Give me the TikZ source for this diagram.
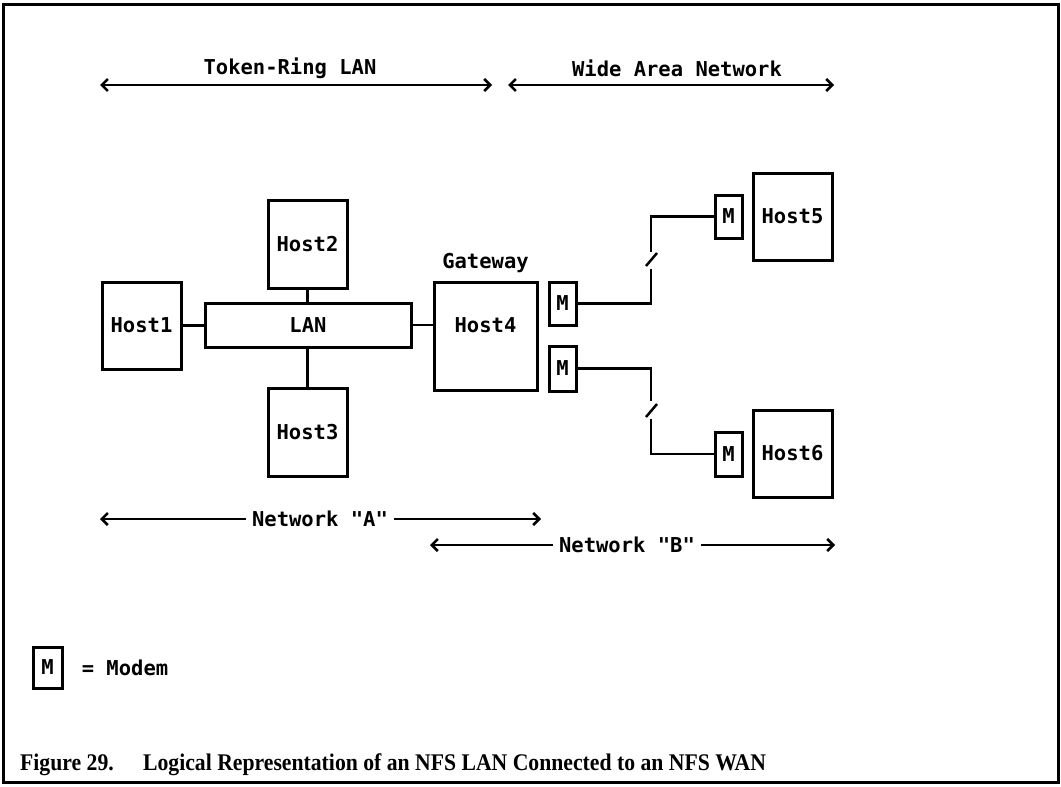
\documentclass[tikz,border=0pt]{standalone}
\usepackage{fontspec}
\setmainfont{Liberation Serif}
\newfontfamily\dmono{DejaVu Sans Mono}
\usetikzlibrary{arrows.meta}
\begin{document}
\begin{tikzpicture}[x=1pt,y=-1pt,
  box/.style={draw, line width=3pt, inner sep=0pt},
  lbl/.style={font=\dmono\bfseries\fontsize{20.5}{24}\selectfont, inner sep=0pt},
  slbl/.style={lbl, inner xsep=6pt},
  wire/.style={line width=2.5pt},
  tipl/.style={line width=2.5pt, {Straight Barb[length=6pt,width=12pt]}-},
  tipr/.style={line width=2.5pt, -{Straight Barb[length=6pt,width=12pt]}},
  span/.style={line width=2.5pt, {Straight Barb[length=6pt,width=12pt]}-{Straight Barb[length=6pt,width=12pt]}},
  host/.style={box, lbl, minimum width=79pt, minimum height=87pt},
  modem/.style={box, lbl, minimum width=27pt, minimum height=43pt}]
\useasboundingbox (0,0) rectangle (1061,787);
\fill[white] (0,0) rectangle (1061,787);
\draw[line width=3pt] (3,4) rectangle (1058,782);

% top spans
\node[lbl] (trl) at (290,68) {Token-Ring LAN};
\coordinate (trlL) at (100,85);
\coordinate (trlR) at (492,85);
\draw[span] (trlL) -- (trlR);
\node[lbl] (wan) at (677,68) {Wide Area Network};
\coordinate (wanL) at (508,85);
\coordinate (wanR) at (834,85);
\draw[span] (wanL) -- (wanR);

% hosts
\node[host] (host1) at (141.5,325.5) {Host1};
\node[box, lbl, minimum width=206pt, minimum height=44pt] (lan) at (308,325) {LAN};
\node[host, minimum height=88pt] (host2) at (307.5,244) {Host2};
\node[host, minimum height=88pt] (host3) at (307.5,432) {Host3};
\node[box, minimum width=103pt, minimum height=108pt] (host4) at (485.5,336) {};
\node[lbl] (host4t) at (485.5,325) {Host4};
\node[lbl] (gw) at (485.5,263) {Gateway};
\node[modem] (m1) at (562.5,303.5) {M};
\node[modem, minimum height=45pt] (m2) at (562.5,368.5) {M};
\node[host] (host5) at (792.5,216.5) {Host5};
\node[modem] (m5) at (728.5,216.5) {M};
\node[host] (host6) at (792.5,453.5) {Host6};
\node[modem, minimum height=44pt] (m6) at (728.5,454) {M};

% LAN connectors
\draw[wire] (host1.east) -- (host1.east -| lan.west);
\draw[wire] (host2.south) -- (host2.south |- lan.north);
\draw[wire] (lan.south -| host3.north) -- (host3.north);
\draw[wire] (lan.east) -- (lan.east -| host4.west);

% WAN links
\coordinate (b1a) at (651,269);
\coordinate (b1b) at (651,252);
\coordinate (s1a) at (646,266);
\coordinate (s1b) at (657,253);
\draw[wire] (m1.east) -| (b1a);
\draw[wire] (b1b) |- (m5.west);
\draw[wire] (s1a) -- (s1b);
\coordinate (b2a) at (651,401);
\coordinate (b2b) at (651,419);
\coordinate (s2a) at (646,417);
\coordinate (s2b) at (657,404);
\draw[wire] (m2.east) -| (b2a);
\draw[wire] (b2b) |- (m6.west);
\draw[wire] (s2a) -- (s2b);

% bottom spans
\node[slbl] (neta) at (320,519) {Network "A"};
\coordinate (netaL) at (100,519);
\coordinate (netaR) at (541,519);
\draw[tipl] (netaL) -- (neta.west);
\draw[tipr] (neta.east) -- (netaR);
\node[slbl] (netb) at (627,545) {Network "B"};
\coordinate (netbL) at (430,545);
\coordinate (netbR) at (835,545);
\draw[tipl] (netbL) -- (netb.west);
\draw[tipr] (netb.east) -- (netbR);

% legend
\node[box, lbl, minimum width=29pt, minimum height=41pt] (legm) at (47.5,667.5) {M};
\node[lbl] (legt) at (125,668) {= Modem};

% caption
\node[anchor=west, inner sep=0pt, font=\bfseries\fontsize{21.7}{26}\selectfont, yscale=1.1] (cap) at (20,765)
  {Figure 29.\hspace{1.35em}Logical Representation of an NFS LAN Connected to an NFS WAN};
\end{tikzpicture}
\end{document}
